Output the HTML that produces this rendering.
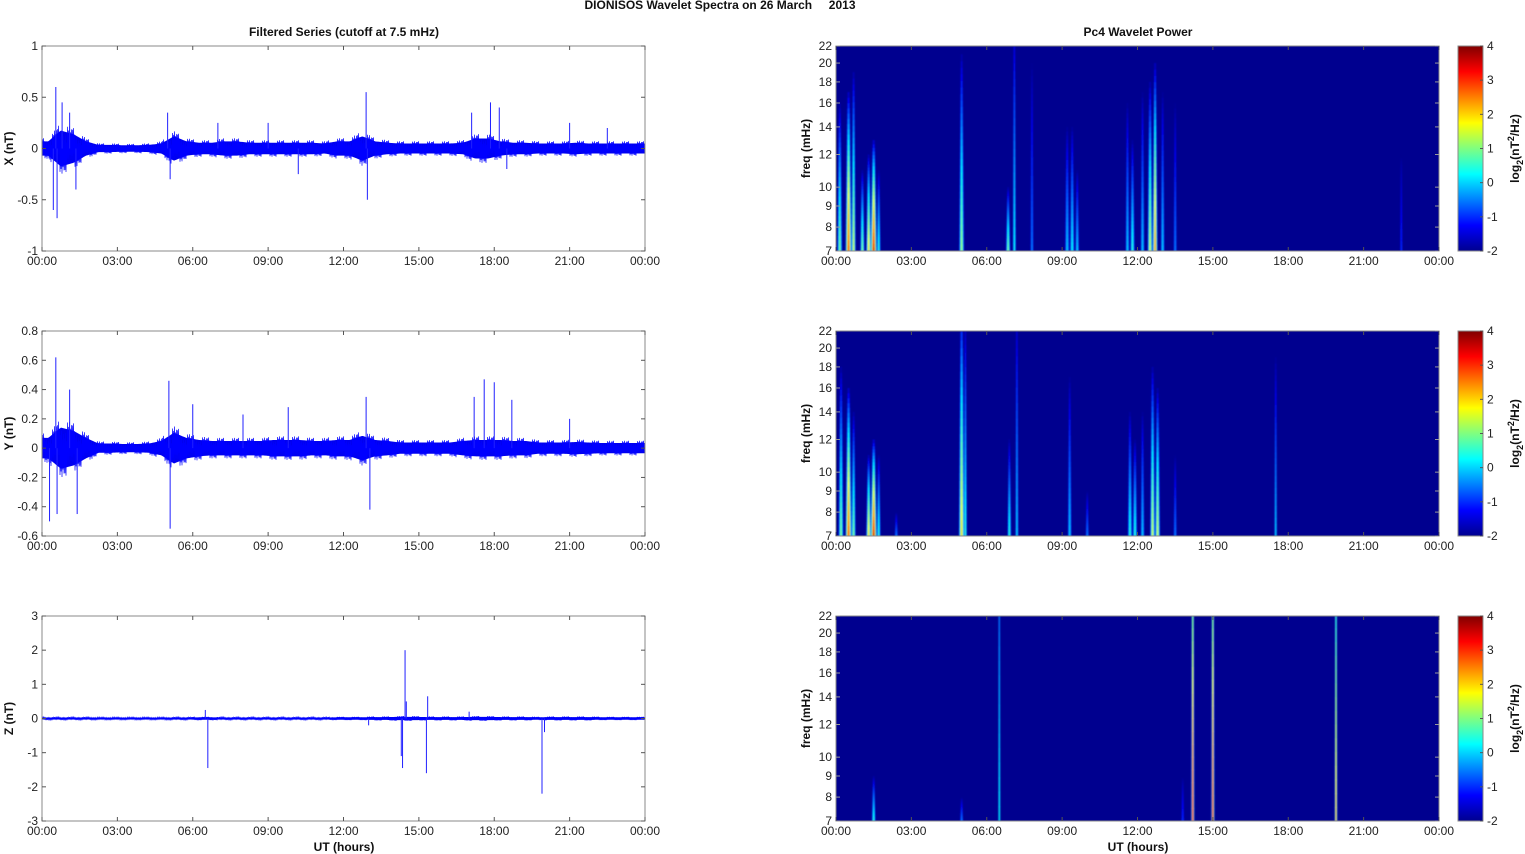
<!DOCTYPE html>
<html><head><meta charset="utf-8">
<style>
html,body{margin:0;padding:0;background:#fff;}
svg{display:block;font-family:"Liberation Sans",Arial,sans-serif;}
.t{font-size:12px;fill:#222;}
.b{font-size:12px;font-weight:bold;fill:#111;}
</style></head>
<body>
<svg id="fig" width="1525" height="854" viewBox="0 0 1525 854" xmlns="http://www.w3.org/2000/svg">
<defs>
<filter id="blr" x="-50%" y="-5%" width="200%" height="110%"><feGaussianBlur stdDeviation="0.9 0.5"/></filter>
<linearGradient id="jetbar" x1="0" y1="1" x2="0" y2="0">
<stop offset="0" stop-color="#00008f"/><stop offset="0.125" stop-color="#0000ff"/><stop offset="0.375" stop-color="#00ffff"/><stop offset="0.625" stop-color="#ffff00"/><stop offset="0.875" stop-color="#ff0000"/><stop offset="1" stop-color="#800000"/>
</linearGradient>
</defs>
<text class="b" x="720" y="9" text-anchor="middle">DIONISOS Wavelet Spectra on 26 March&#160;&#160;&#160;&#160;&#160;2013</text>
<text class="b" x="344" y="36" text-anchor="middle">Filtered Series (cutoff at 7.5 mHz)</text>
<text class="b" x="1138" y="36" text-anchor="middle">Pc4 Wavelet Power</text>
<text class="b" x="344" y="851" text-anchor="middle">UT (hours)</text>
<text class="b" x="1138" y="851" text-anchor="middle">UT (hours)</text>
<g id="plots"></g>
</svg>
<script>
// ---- data ----
const timeTicks = ["00:00","03:00","06:00","09:00","12:00","15:00","18:00","21:00","00:00"];
const xTicks = [-1,-0.5,0,0.5,1];
const yTicks = [-0.6,-0.4,-0.2,0,0.2,0.4,0.6,0.8];
const zTicks = [-3,-2,-1,0,1,2,3];
const freqTicks = [7,8,9,10,12,14,16,18,20,22];
const cbarTicks = [-2,-1,0,1,2,3,4];
// half-hour envelope amplitudes (nT)
const xEnv = [0.1,0.25,0.2,0.1,0.05,0.05,0.045,0.045,0.05,0.07,0.17,0.1,0.08,0.08,0.1,0.1,0.08,0.08,0.08,0.08,0.08,0.08,0.07,0.1,0.1,0.17,0.1,0.08,0.07,0.07,0.07,0.07,0.07,0.08,0.14,0.14,0.1,0.08,0.08,0.07,0.07,0.07,0.08,0.07,0.07,0.07,0.07,0.07];
const yEnv = [0.1,0.2,0.17,0.1,0.045,0.045,0.04,0.04,0.045,0.07,0.15,0.1,0.08,0.07,0.07,0.07,0.07,0.07,0.08,0.08,0.08,0.07,0.07,0.08,0.08,0.12,0.08,0.07,0.055,0.055,0.055,0.055,0.055,0.07,0.08,0.08,0.08,0.07,0.07,0.055,0.055,0.055,0.06,0.055,0.05,0.05,0.05,0.05];
const zEnv = [0.04,0.04,0.04,0.04,0.035,0.035,0.035,0.035,0.035,0.035,0.04,0.04,0.05,0.05,0.04,0.04,0.04,0.04,0.04,0.04,0.04,0.04,0.04,0.05,0.05,0.05,0.06,0.06,0.07,0.07,0.06,0.06,0.06,0.06,0.07,0.07,0.06,0.06,0.06,0.05,0.06,0.06,0.06,0.06,0.05,0.05,0.05,0.05];
// spikes [hour, value]
const xSpikes = [[0.45,-0.6],[0.55,0.6],[0.6,-0.68],[0.8,0.45],[1.1,0.35],[1.35,-0.4],[5.0,0.35],[5.1,-0.3],[7.0,0.25],[9.0,0.25],[10.2,-0.25],[12.9,0.55],[12.95,-0.5],[17.1,0.35],[17.85,0.45],[18.2,0.4],[18.5,-0.2],[21.0,0.25],[22.5,0.2]];
const ySpikes = [[0.3,-0.5],[0.55,0.62],[0.6,-0.45],[1.1,0.4],[1.4,-0.45],[5.05,0.46],[5.1,-0.55],[6.0,0.3],[8.0,0.23],[9.8,0.28],[12.9,0.35],[13.05,-0.42],[17.2,0.35],[17.6,0.47],[18.0,0.45],[18.7,0.33],[21.0,0.2]];
const zSpikes = [[6.6,-1.45],[6.5,0.25],[14.35,-1.45],[14.45,2.0],[14.5,0.5],[14.3,-1.1],[15.3,-1.6],[15.35,0.65],[19.9,-2.2],[20.0,-0.4],[17.0,0.2],[13.0,-0.2]];
// spectrogram events [hour, top freq mHz, peak log2 power, width hours]
const xEvents = [[0.15,16,1,0.08],[0.5,17,3,0.1],[0.7,19,1.5,0.07],[1.05,11,1,0.07],[1.3,12,2,0.08],[1.5,13,3.5,0.1],[1.7,11,0.5,0.06],[5.0,21,1.2,0.08],[6.85,10,1,0.07],[7.1,26,0.3,0.05],[7.8,20,-0.5,0.05],[9.2,14,0,0.07],[9.4,14,0.3,0.07],[9.6,11,0,0.06],[11.6,16,0,0.06],[11.8,13,0.5,0.07],[12.2,17,0,0.06],[12.5,18,1.5,0.08],[12.7,20,2.5,0.08],[13.0,17,0,0.06],[13.5,16,-0.5,0.05],[22.5,12,-1,0.04]];
const yEvents = [[0.2,18,1,0.08],[0.5,16,3,0.1],[0.7,14,1,0.07],[1.3,11,2,0.08],[1.5,12,3.5,0.1],[1.7,11,0.5,0.06],[2.4,8,-0.5,0.05],[5.0,26,2,0.09],[5.15,24,0.5,0.05],[6.9,12,0.5,0.06],[7.2,26,0,0.05],[9.3,17,0,0.06],[10.0,9,-0.5,0.05],[11.7,14,0.5,0.07],[11.9,12,0.5,0.07],[12.2,14,0,0.06],[12.6,18,1.5,0.08],[12.8,16,1.5,0.08],[13.5,11,-0.5,0.05],[17.5,19,0,0.04]];
const zEvents = [[1.5,9,0.5,0.06],[5.0,8,-0.5,0.05],[6.5,80,0.3,0.03],[13.8,9,-1,0.05],[14.2,60,3,0.05],[15.0,60,3,0.05],[19.9,70,2,0.04]];

// ---- layout ----
const rows = [[46,251],[331,536],[616,821]];
const LX = [42,645], RX = [836,1439], CB = [1458,1483];
const svgNS = "http://www.w3.org/2000/svg";
const root = document.getElementById('plots');
function mk(tag, attrs, parent){ const e=document.createElementNS(svgNS,tag); for(const k in attrs) e.setAttribute(k,attrs[k]); (parent||root).appendChild(e); return e; }
function txt(s, attrs, parent){ const e=mk('text',attrs,parent); e.textContent=s; return e; }
function jet(v){ let t=(v+2)/6; t=Math.max(0,Math.min(1,t)); const c=x=>Math.round(255*Math.max(0,Math.min(1,x)));
  return `rgb(${c(1.5-Math.abs(4*t-3))},${c(1.5-Math.abs(4*t-2))},${c(1.5-Math.abs(4*t-1))})`; }
// fixed texture pattern for noisy trace rendering (visual only, odd length)
const tex = [0.35,0.9,0.55,1.0,0.25,0.7,0.95,0.45,0.8,0.6,1.0,0.3,0.75,0.5,0.9];

function timeAxis(g, x0, x1, y0, y1){
  const sx = h => x0 + (x1-x0)*h/24;
  timeTicks.forEach((lab,i)=>{ const x=sx(i*3);
    mk('line',{x1:x,x2:x,y1:y1,y2:y1-4,stroke:'#555'},g); mk('line',{x1:x,x2:x,y1:y0,y2:y0+4,stroke:'#555'},g);
    const t=txt(lab,{x:x,y:y1+14,'text-anchor':'middle',class:'t'},g);
    
    
  });
  return sx;
}
function envAt(env,h){ const p=h*2-0.5; let k=Math.floor(p); const f=p-k;
  const a=env[Math.max(0,Math.min(env.length-1,k))], b=env[Math.max(0,Math.min(env.length-1,k+1))]; return a+(b-a)*f; }

const comps = [['X (nT)',xTicks,xEnv,xSpikes,xEvents,'x'],['Y (nT)',yTicks,yEnv,ySpikes,yEvents,'y'],['Z (nT)',zTicks,zEnv,zSpikes,zEvents,'z']];
comps.forEach((c,ri)=>{
  const [lab,ticks,env,spikes,events,nm]=c; const [y0,y1]=rows[ri];
  const g = mk('g',{});
  
  
  const vmin=ticks[0], vmax=ticks[ticks.length-1];
  const sy = v => y1 - (y1-y0)*(v-vmin)/(vmax-vmin);
  mk('rect',{x:LX[0],y:y0,width:LX[1]-LX[0],height:y1-y0,fill:'#fff'},g);
  const sx = h => LX[0]+(LX[1]-LX[0])*h/24;
  let up=[],dn=[];
  for(let px=LX[0]; px<=LX[1]; px++){
    const h=(px-LX[0])/(LX[1]-LX[0])*24; const a=envAt(env,h)*0.7;
    up.push(`${px},${sy(a)}`); dn.unshift(`${px},${sy(-a)}`);
  }
  const band=mk('polygon',{points:up.concat(dn).join(' '),fill:'#0000f0'},g);
  
  
  let pts=[];
  for(let px=LX[0]; px<=LX[1]; px+=0.5){
    const i=Math.round((px-LX[0])*2);
    const h=(px-LX[0])/(LX[1]-LX[0])*24; const a=envAt(env,h)*tex[i%tex.length]*(i%2?1:-1);
    pts.push(`${px},${sy(a)}`);
  }
  const tr=mk('polyline',{points:pts.join(' '),fill:'none',stroke:'#0000ff','stroke-width':0.7},g);
  
  
  spikes.forEach(s=>{ const l=mk('line',{x1:sx(s[0]),x2:sx(s[0]),y1:sy(0),y2:sy(s[1]),stroke:'#2020ff','stroke-width':1},g);
    
     });
  mk('rect',{x:LX[0],y:y0,width:LX[1]-LX[0],height:y1-y0,fill:'none',stroke:'#888'},g);
  ticks.forEach(v=>{ const y=sy(v);
    mk('line',{x1:LX[0],x2:LX[0]+4,y1:y,y2:y,stroke:'#555'},g); mk('line',{x1:LX[1],x2:LX[1]-4,y1:y,y2:y,stroke:'#555'},g);
    const t=txt(String(v),{x:LX[0]-4,y:y+4,'text-anchor':'end',class:'t'},g);
    
     });
  timeAxis(g,LX[0],LX[1],y0,y1);
  const yl=txt(lab,{x:0,y:0,transform:`translate(13,${(y0+y1)/2}) rotate(-90)`,'text-anchor':'middle',class:'b'},g);
  
  

  // right spectrogram
  const r = mk('g',{});
  
  
  const fy = f => y1 - (y1-y0)*Math.log(f/7)/Math.log(22/7);
  const rx = h => RX[0]+(RX[1]-RX[0])*h/24;
  mk('rect',{x:RX[0],y:y0,width:RX[1]-RX[0],height:y1-y0,fill:'#00008f'},r);
  const clip = mk('clipPath',{id:'clip'+ri},r); mk('rect',{x:RX[0],y:y0,width:RX[1]-RX[0],height:y1-y0},clip);
  const eg = mk('g',{'clip-path':`url(#clip${ri})`,filter:'url(#blr)'},r);
  events.forEach(ev=>{
    const [h,top,peak,w]=ev; const eGrp=mk('g',{},eg);
    
    
    const N=30, span=Math.log(top/7);
    const layers=[[1.0,0.3],[0.7,0.55],[0.45,0.8],[0.22,1.0]];
    layers.forEach(([wf,vf])=>{
      for(let i=0;i<N;i++){
        const fa=7*Math.exp(span*i/N), fb=7*Math.exp(span*(i+1)/N);
        if(fa>22) break;
        const frac=i/N; const v=-2+(peak+2)*Math.pow(1-frac,0.7);
        const ya=fy(fa), yb=fy(Math.min(fb,22));
        const wpx=Math.max(1.2,(RX[1]-RX[0])*w/24*2.4*(1-0.55*frac)*wf);
        mk('rect',{x:rx(h)-wpx/2,y:yb,width:wpx,height:ya-yb+0.5,fill:jet(-2+(v+2)*vf)},eGrp);
      }
    });
  });
  mk('rect',{x:RX[0],y:y0,width:RX[1]-RX[0],height:y1-y0,fill:'none',stroke:'#888'},r);
  freqTicks.forEach(f=>{ const y=fy(f);
    mk('line',{x1:RX[0],x2:RX[0]+4,y1:y,y2:y,stroke:'#999'},r); mk('line',{x1:RX[1],x2:RX[1]-4,y1:y,y2:y,stroke:'#999'},r);
    const t=txt(String(f),{x:RX[0]-4,y:y+4,'text-anchor':'end',class:'t'},r);
    
     });
  timeAxis(r,RX[0],RX[1],y0,y1);
  const fl=txt('freq (mHz)',{x:0,y:0,transform:`translate(810,${(y0+y1)/2}) rotate(-90)`,'text-anchor':'middle',class:'b'},r);
  
  
  const cb = mk('g',{},r);
  
  
  mk('rect',{x:CB[0],y:y0,width:CB[1]-CB[0],height:y1-y0,fill:'url(#jetbar)',stroke:'#888'},cb);
  cbarTicks.forEach(v=>{ const y=y1-(y1-y0)*(v+2)/6;
    mk('line',{x1:CB[1],x2:CB[1]-3,y1:y,y2:y,stroke:'#555'},cb);
    const t=txt(String(v),{x:CB[1]+4,y:y+4,class:'t'},cb);
    
     });
  const ct=mk('text',{x:0,y:0,transform:`translate(1519,${(y0+y1)/2}) rotate(-90)`,'text-anchor':'middle',class:'b'},cb);
  
  
  ct.innerHTML='log<tspan font-size="9" dy="4">2</tspan><tspan dy="-4">(nT</tspan><tspan font-size="9" dy="-5">2</tspan><tspan dy="5">/Hz)</tspan>';
});
</script>
</body></html>
